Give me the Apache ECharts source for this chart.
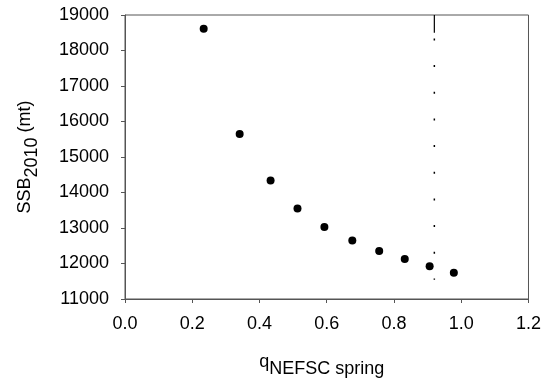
<!DOCTYPE html>
<html>
<head>
<meta charset="utf-8">
<script src="https://cdn.jsdelivr.net/npm/echarts@6/dist/echarts.min.js"></script>
<style>
  html, body { margin: 0; padding: 0; background: #fff; }
  #chart { width: 544px; height: 383px; }
</style>
</head>
<body>
<div id="chart"></div>
<script>
// catchability (x) vs SSB 2010 (y)
const qValues = [0.234, 0.341, 0.433, 0.513, 0.593, 0.676, 0.756, 0.832, 0.906, 0.978]
const ssbValues = [18610, 15650, 14340, 13550, 13030, 12650, 12355, 12130, 11925, 11740]

// vertical reference line
const refQ = 0.92
const refSolidY = [19000, 18500]
const refDotY = [18340, 11540]

const xTicks = [0, 0.2, 0.4, 0.6, 0.8, 1.0, 1.2]
const yTicks = [11000, 12000, 13000, 14000, 15000, 16000, 17000, 18000, 19000]

const FONT = '"Liberation Sans", Arial, sans-serif'
const AXIS_COLOR = '#555'

const chart = echarts.init(document.getElementById('chart'))

chart.setOption({
  animation: false,
  grid: {
    left: 125, right: 14, top: 15, bottom: 83,
    show: true, borderColor: AXIS_COLOR, borderWidth: 1
  },
  xAxis: {
    type: 'value',
    min: xTicks[0],
    max: xTicks[xTicks.length - 1],
    interval: 0.2,
    splitLine: { show: false },
    axisLine: { lineStyle: { color: AXIS_COLOR } },
    axisTick: { length: 4, lineStyle: { color: AXIS_COLOR } },
    axisLabel: {
      color: '#000', fontFamily: FONT, fontSize: 18, margin: 16,
      formatter: v => v.toFixed(1)
    },
    name: '{a|q}{b|NEFSC spring}',
    nameLocation: 'middle',
    nameGap: 54,
    nameTextStyle: {
      rich: {
        a: { fontFamily: FONT, fontSize: 18, color: '#000', padding: [0, 0, 7, 0] },
        b: { fontFamily: FONT, fontSize: 18, color: '#000', padding: [7, 10, 0, 0] }
      }
    }
  },
  yAxis: {
    type: 'value',
    min: yTicks[0],
    max: yTicks[yTicks.length - 1],
    interval: 1000,
    splitLine: { show: false },
    axisLine: { show: true, lineStyle: { color: AXIS_COLOR } },
    axisTick: { show: true, length: 4, lineStyle: { color: AXIS_COLOR } },
    axisLabel: {
      color: '#000', fontFamily: FONT, fontSize: 18, margin: 16,
      formatter: v => String(v)
    },
    name: '{a|SSB}{b|2010}{a| (mt)}',
    nameLocation: 'middle',
    nameRotate: 90,
    nameGap: 84,
    nameTextStyle: {
      rich: {
        a: { fontFamily: FONT, fontSize: 18, color: '#000', padding: [0, 0, 7, 0] },
        b: { fontFamily: FONT, fontSize: 18, color: '#000', padding: [7, 0, 0, 0] }
      }
    }
  },
  series: [
    {
      type: 'scatter',
      data: qValues.map((q, i) => [q, ssbValues[i]]),
      symbolSize: 8,
      itemStyle: { color: '#000', opacity: 1 },
      z: 3
    },
    {
      type: 'line',
      data: refSolidY.map(y => [refQ, y]),
      symbol: 'none',
      lineStyle: { color: '#000', width: 1.2 }
    },
    {
      type: 'line',
      data: refDotY.map(y => [refQ, y]),
      symbol: 'none',
      lineStyle: { color: '#000', width: 1.5, type: [2, 24.67] }
    }
  ]
})
</script>
</body>
</html>
